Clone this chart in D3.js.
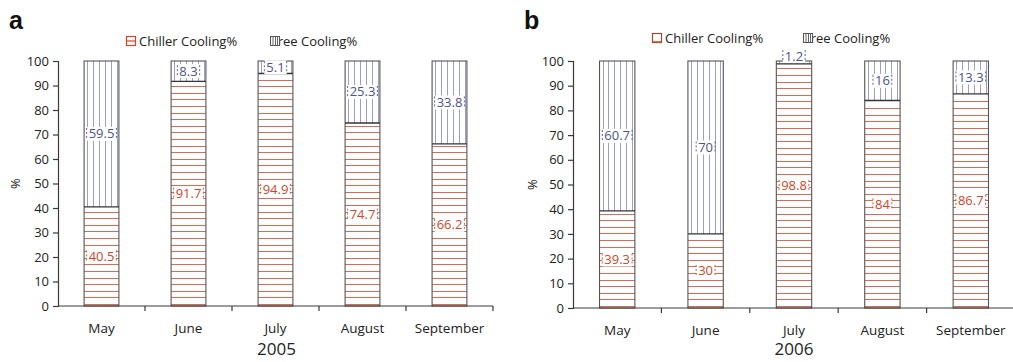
<!DOCTYPE html>
<html>
<head>
<meta charset="utf-8">
<script src="https://cdn.jsdelivr.net/npm/d3@7"></script>
<style>
  html, body { margin: 0; padding: 0; background: #ffffff; }
  svg { display: block; }
  text { font-family: "Open Sans", "Noto Sans", sans-serif; }
</style>
</head>
<body>
<svg id="chart" width="1013" height="362"></svg>
<script>
// Monthly split of cooling energy between chiller and free cooling
const months = ["May", "June", "July", "August", "September"];
const chiller2005 = [40.5, 91.7, 94.9, 74.7, 66.2];
const free2005 = [59.5, 8.3, 5.1, 25.3, 33.8];
const chiller2006 = [39.3, 30, 98.8, 84, 86.7];
const free2006 = [60.7, 70, 1.2, 16, 13.3];
const yTicks = [0, 10, 20, 30, 40, 50, 60, 70, 80, 90, 100];
const seriesNames = ["Chiller Cooling%", "Free Cooling%"];

const RED = "#dc6a52", RED_TXT = "#d2452a";
const BLUE = "#9a9ecb", BLUE_TXT = "#4c5190";
const AXIS = "#3a3a3a";

const svg = d3.select("#chart");

const panels = [
  { tag: "a", year: "2005", chiller: chiller2005, free: free2005,
    x0: 58, x1: 493, yTop: 61, yBot: 306, tagX: 9, tagY: 29, pctX: 16,
    legendY: 46, legend: [126, 271] },
  { tag: "b", year: "2006", chiller: chiller2006, free: free2006,
    x0: 573, x1: 1015, yTop: 61, yBot: 308, tagX: 524, tagY: 29, pctX: 533,
    legendY: 43, legend: [652, 804] }
];

const crisp = v => Math.round(v) + 0.5;

panels.forEach(p => {
  const g = svg.append("g");
  const x = d3.scaleBand().domain(months).range([p.x0, p.x1]).padding(0);
  const y = d3.scaleLinear().domain([0, 100]).range([p.yBot, p.yTop]);
  const bw = x.bandwidth() * 0.4;

  // panel tag
  g.append("text").attr("x", p.tagX).attr("y", p.tagY)
    .style("font-family", "'Liberation Sans', Arial, sans-serif")
    .attr("font-size", 25).attr("font-weight", "bold").attr("fill", "#111")
    .text(p.tag);

  // legend
  const [lx1, lx2] = p.legend;
  const ly = p.legendY;
  g.append("text").attr("x", lx1 + 13).attr("y", ly).attr("font-size", 13)
    .attr("fill", "#222").text(seriesNames[0]);
  g.append("text").attr("x", lx2).attr("y", ly).attr("font-size", 13)
    .attr("fill", "#222").text(seriesNames[1]);
  // chiller swatch
  g.append("rect").attr("x", lx1 + 0.5).attr("y", ly - 9.5).attr("width", 9).attr("height", 9)
    .attr("fill", "#fff").attr("stroke", p.tag === "a" ? RED_TXT : "#9a4a3a").attr("stroke-width", 1.2);
  if (p.tag === "a") {
    g.append("line").attr("x1", lx1 + 0.5).attr("x2", lx1 + 9.5)
      .attr("y1", ly - 5).attr("y2", ly - 5).attr("stroke", RED_TXT).attr("stroke-width", 1.2);
  } else {
    g.append("line").attr("x1", lx1 + 0.5).attr("x2", lx1 + 9.5)
      .attr("y1", ly - 1).attr("y2", ly - 1).attr("stroke", RED_TXT).attr("stroke-width", 1.5);
  }
  // free swatch, drawn over the first letter
  g.append("rect").attr("x", lx2 - 0.5).attr("y", ly - 9.5).attr("width", 9).attr("height", 9)
    .attr("fill", "#fff").attr("stroke", "#555").attr("stroke-width", 1);
  [2.5, 5, 7].forEach(dx => {
    g.append("line").attr("x1", lx2 - 0.5 + dx).attr("x2", lx2 - 0.5 + dx)
      .attr("y1", ly - 9.5).attr("y2", ly - 0.5).attr("stroke", "#555").attr("stroke-width", 0.9);
  });

  // bars
  months.forEach((m, i) => {
    const bx = x(m) + (x.bandwidth() - bw) / 2;
    const c = p.chiller[i], f = p.free[i];
    const yC = y(c), yF = y(c + f);
    const bar = g.append("g");

    // chiller segment with horizontal hatching
    bar.append("rect").attr("x", bx).attr("y", yC).attr("width", bw)
      .attr("height", p.yBot - yC).attr("fill", "#fff");
    for (let ly2 = p.yBot - 2; ly2 > yC + 1.5; ly2 -= 6.6) {
      bar.append("line").attr("x1", bx).attr("x2", bx + bw)
        .attr("y1", crisp(ly2)).attr("y2", crisp(ly2)).attr("stroke", RED).attr("stroke-width", 1);
    }
    // free segment with vertical hatching
    bar.append("rect").attr("x", bx).attr("y", yF).attr("width", bw)
      .attr("height", yC - yF).attr("fill", "#fff");
    for (let lx = bx + 3; lx < bx + bw - 1.5; lx += 5.9) {
      bar.append("line").attr("x1", crisp(lx)).attr("x2", crisp(lx))
        .attr("y1", yF).attr("y2", yC).attr("stroke", BLUE).attr("stroke-width", 1);
    }
    // outlines and divider
    bar.append("rect").attr("x", bx).attr("y", yF).attr("width", bw)
      .attr("height", p.yBot - yF).attr("fill", "none")
      .attr("stroke", "#555").attr("stroke-width", 1.1);
    bar.append("line").attr("x1", bx).attr("x2", bx + bw).attr("y1", yC).attr("y2", yC)
      .attr("stroke", "#333").attr("stroke-width", 1.3);

    // value labels
    const addLabel = (val, y0, y1, col) => {
      let cy = (y0 + y1) / 2;
      if (Math.abs(y1 - y0) < 8) cy = Math.min(y0, y1) - 5;
      const t = bar.append("text").attr("x", bx + bw / 2).attr("y", cy + 4.5)
        .attr("text-anchor", "middle").attr("font-size", 13).attr("fill", col).text(val);
      const w = t.node().getComputedTextLength() + 4;
      bar.insert("rect", function () { return t.node(); })
        .attr("x", bx + bw / 2 - w / 2).attr("y", cy - 7).attr("width", w).attr("height", 14)
        .attr("fill", "#fff");
      [-w / 2, w / 2].forEach(dx => {
        bar.insert("line", function () { return t.node(); })
          .attr("x1", bx + bw / 2 + dx).attr("x2", bx + bw / 2 + dx)
          .attr("y1", cy - 6).attr("y2", cy + 6)
          .attr("stroke", col).attr("stroke-width", 0.9).attr("stroke-dasharray", "2,2");
      });
    };
    addLabel(c, p.yBot, yC, RED_TXT);
    addLabel(f, yC, yF, BLUE_TXT);
  });

  // y axis
  const ya = g.append("g").attr("transform", `translate(${p.x0},0)`)
    .call(d3.axisLeft(y).tickValues(yTicks).tickSize(5).tickPadding(4));
  ya.select(".domain").attr("stroke", AXIS).attr("stroke-width", 1.2);
  ya.selectAll(".tick line").attr("stroke", AXIS).attr("stroke-width", 1.2);
  ya.selectAll(".tick text").attr("font-size", 13).attr("fill", "#222")
    .style("font-family", "'Open Sans', sans-serif");

  // x axis: ticks at band boundaries, labels at band centres
  const xa = g.append("g").attr("transform", `translate(0,${p.yBot})`);
  xa.append("line").attr("x1", p.x0).attr("x2", p.x1).attr("stroke", AXIS).attr("stroke-width", 1.2);
  months.forEach(m => {
    xa.append("line").attr("x1", x(m) + x.bandwidth()).attr("x2", x(m) + x.bandwidth())
      .attr("y1", 0).attr("y2", 5).attr("stroke", AXIS).attr("stroke-width", 1.2);
    xa.append("text").attr("x", x(m) + x.bandwidth() / 2).attr("y", 27)
      .attr("text-anchor", "middle").attr("font-size", 13.5).attr("fill", "#222").text(m);
  });
  g.append("text").attr("x", (p.x0 + Math.min(p.x1, 1013)) / 2 + 1).attr("y", 355)
    .attr("text-anchor", "middle").attr("font-size", 17).attr("fill", "#222").text(p.year);

  // y label
  g.append("text").attr("transform", `translate(${p.pctX + 4},${(p.yTop + p.yBot) / 2}) rotate(-90)`)
    .attr("text-anchor", "middle").attr("font-size", 13).attr("fill", "#222").text("%");
});
</script>
</body>
</html>
